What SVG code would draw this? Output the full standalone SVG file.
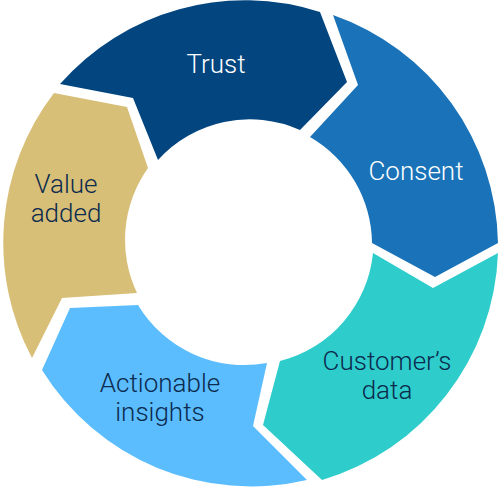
<svg xmlns="http://www.w3.org/2000/svg" width="500" height="488" viewBox="0 0 500 488">
<style>
.lbl{font-family:Roboto,"Liberation Sans",Arial,sans-serif;font-weight:300;font-size:26px;text-anchor:middle}
.w{fill:#ffffff}
.d{fill:#0c2b4e}
</style>
<rect width="500" height="488" fill="#ffffff"/>
<g id="connectors"></g>
<g id="trust">
<path d="M60,84 A246,246 0 0,1 320,12 L347,82 L300,130 A124,124 0 0,0 158,160 L133,98 Z" fill="#02457f"/>
<text class="lbl w" x="216" y="73">Trust</text>
</g>
<g id="consent">
<path d="M333,15 A246,246 0 0,1 498,243 L435,277 L372,243 A124,124 0 0,0 310,137 L358,85 Z" fill="#1a73b8"/>
<text class="lbl w" x="416" y="180">Consent</text>
</g>
<g id="customers-data">
<path d="M498,253 A246,246 0 0,1 322,480 L263,425 L280,361 A124,124 0 0,0 373,253 L433,288 Z" fill="#2ecdcb"/>
<text class="lbl d" x="387" y="370">Customer’s</text>
<text class="lbl d" x="387" y="399">data</text>
</g>
<g id="actionable-insights">
<path d="M307,480 A246,246 0 0,1 42,370 L70,308 L138,305 A124,124 0 0,0 267,363 L253,426 Z" fill="#5bbdfe"/>
<text class="lbl d" x="160" y="392">Actionable</text>
<text class="lbl d" x="160" y="421">insights</text>
</g>
<g id="value-added">
<path d="M32,358 A246,246 0 0,1 54,93 L127,107 L148,168 A124,124 0 0,0 137,293 L62,298 Z" fill="#d8bf78"/>
<text class="lbl d" x="66" y="193">Value</text>
<text class="lbl d" x="66" y="222">added</text>
</g>
</svg>
